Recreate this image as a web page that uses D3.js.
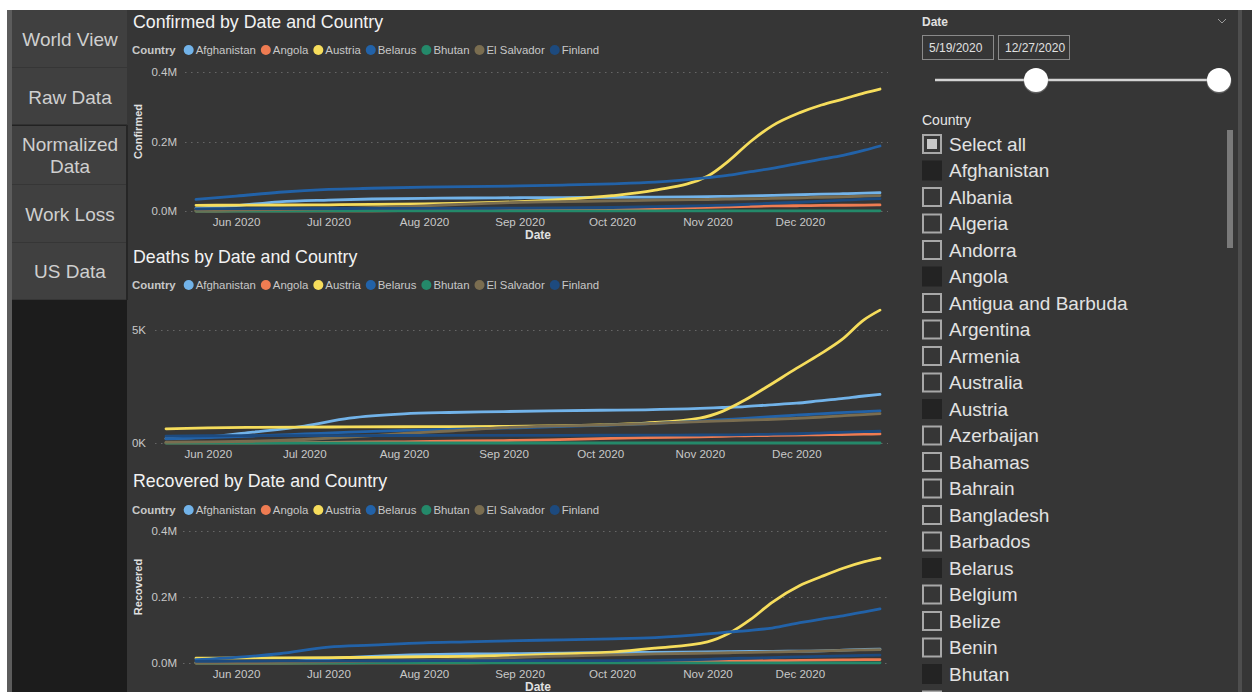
<!DOCTYPE html>
<html>
<head>
<meta charset="utf-8">
<script src="https://cdn.jsdelivr.net/npm/d3@7"></script>
<style>
  body { margin: 0; background: #fff; }
  svg { display: block; font-family: "Liberation Sans", Arial, sans-serif; }
</style>
</head>
<body>
<svg id="page" width="1252" height="692"></svg>
<script>
// ---- data ----
const countries = ["Afghanistan", "Angola", "Austria", "Belarus", "Bhutan", "El Salvador", "Finland"];
const colors = ["#72b3e9", "#ef7c52", "#f6dd5c", "#2262a8", "#24896a", "#7a6d50", "#1d4a7e"];

const dateStrings = ["2020-05-19", "2020-06-01", "2020-06-15", "2020-07-01", "2020-07-15",
  "2020-08-01", "2020-08-15", "2020-09-01", "2020-09-15", "2020-10-01", "2020-10-15",
  "2020-11-01", "2020-11-08", "2020-11-15", "2020-11-22", "2020-12-01", "2020-12-08",
  "2020-12-15", "2020-12-22", "2020-12-27"];
const monthTicks = ["2020-06-01", "2020-07-01", "2020-08-01", "2020-09-01", "2020-10-01", "2020-11-01", "2020-12-01"];

const confirmedAfghanistan = [7600, 15200, 26300, 31500, 34500, 36500, 37400, 38200, 38700, 39300, 40000, 41500, 42300, 43600, 45000, 46700, 48400, 49800, 51200, 52500];
const confirmedAngola = [52, 86, 142, 284, 600, 1150, 1850, 2650, 3570, 5110, 7220, 10800, 12100, 13450, 14630, 15250, 16060, 16560, 17030, 17500];
const confirmedAustria = [16300, 16700, 17200, 17900, 19200, 20700, 22900, 27000, 33500, 44000, 60000, 100000, 145000, 200000, 245000, 283000, 305000, 322000, 340000, 351000];
const confirmedBelarus = [33400, 42800, 54000, 62400, 65400, 68500, 70200, 72200, 74700, 78100, 83000, 96000, 103000, 113000, 123000, 138000, 149000, 160000, 175000, 187000];
const confirmedBhutan = [24, 43, 67, 77, 86, 103, 135, 228, 227, 280, 303, 339, 370, 376, 391, 410, 431, 448, 595, 625];
const confirmedElSalvador = [1640, 2650, 3820, 6440, 9470, 15040, 20050, 24960, 27010, 29130, 31080, 33160, 34100, 35200, 36300, 38000, 39500, 41000, 43000, 44500];
const confirmedFinland = [6400, 6860, 7110, 7210, 7310, 7460, 7680, 8260, 8930, 10030, 12460, 15300, 17000, 19600, 22400, 25200, 28300, 31100, 33900, 35500];

const deathsAfghanistan = [194, 270, 480, 750, 1100, 1290, 1350, 1390, 1420, 1450, 1470, 1530, 1570, 1610, 1680, 1760, 1860, 1960, 2080, 2150];
const deathsAngola = [3, 4, 6, 15, 38, 52, 80, 108, 134, 190, 234, 275, 299, 317, 331, 350, 365, 377, 390, 400];
const deathsAustria = [629, 668, 690, 705, 711, 719, 726, 735, 756, 800, 880, 1100, 1400, 1900, 2500, 3300, 3900, 4560, 5450, 5880];
const deathsBelarus = [185, 240, 310, 400, 480, 560, 600, 660, 710, 780, 850, 970, 1030, 1090, 1150, 1230, 1290, 1340, 1390, 1420];
const deathsBhutan = [0, 0, 0, 0, 0, 0, 0, 0, 0, 0, 0, 0, 0, 0, 0, 0, 0, 0, 0, 0];
const deathsElSalvador = [33, 46, 78, 155, 260, 420, 530, 680, 750, 790, 850, 950, 980, 1010, 1040, 1090, 1140, 1200, 1260, 1300];
const deathsFinland = [300, 320, 326, 328, 329, 331, 333, 336, 339, 343, 345, 355, 360, 370, 385, 410, 440, 470, 500, 520];

const recoveredAfghanistan = [930, 1330, 2170, 13200, 20100, 25200, 27200, 28400, 30100, 31300, 32300, 33800, 34400, 34900, 35400, 36100, 36900, 39300, 41000, 41700];
const recoveredAngola = [17, 21, 62, 97, 240, 460, 700, 1000, 1300, 2200, 3300, 4500, 5300, 6300, 7100, 7900, 8600, 9500, 10000, 10500];
const recoveredAustria = [14700, 15100, 15700, 16500, 17100, 19000, 20300, 23300, 27500, 33000, 45000, 64000, 90000, 132000, 184000, 235000, 262000, 287000, 307000, 318000];
const recoveredBelarus = [10000, 17000, 28000, 48000, 54000, 61000, 64000, 68000, 70000, 73000, 77000, 88000, 94000, 99000, 106000, 122000, 133000, 143000, 155000, 164000];
const recoveredBhutan = [6, 10, 30, 50, 80, 90, 100, 140, 200, 240, 290, 310, 330, 345, 360, 380, 400, 410, 420, 450];
const recoveredElSalvador = [700, 1100, 1800, 3400, 5400, 7800, 10600, 17400, 21000, 24600, 27500, 30000, 31000, 32000, 33500, 35200, 36800, 38300, 39800, 40600];
const recoveredFinland = [5000, 5500, 6200, 6500, 6700, 6900, 7000, 7050, 7100, 7300, 8000, 11000, 13500, 15000, 16500, 18500, 20000, 21500, 23000, 24000];

const navItems = ["World View", "Raw Data", "Normalized Data", "Work Loss", "US Data"];
const sliderDates = ["5/19/2020", "12/27/2020"];
const countryList = ["Select all", "Afghanistan", "Albania", "Algeria", "Andorra", "Angola",
  "Antigua and Barbuda", "Argentina", "Armenia", "Australia", "Austria", "Azerbaijan",
  "Bahamas", "Bahrain", "Bangladesh", "Barbados", "Belarus", "Belgium", "Belize", "Benin",
  "Bhutan"];

// ---- page ----
const parse = d3.timeParse("%Y-%m-%d");
const dates = dateStrings.map(parse);
const svg = d3.select("#page");

const BG = "#363636";
const TEXT = "#c8c8c8";
const FONT = "Liberation Sans, Arial, sans-serif";

svg.append("rect").attr("width", 1252).attr("height", 692).attr("fill", "#ffffff");
svg.append("rect").attr("x", 7).attr("y", 10).attr("width", 5).attr("height", 682).attr("fill", "#5c5c5c");
svg.append("rect").attr("x", 12).attr("y", 10).attr("width", 115).attr("height", 682).attr("fill", "#1c1c1c");
svg.append("rect").attr("x", 127).attr("y", 10).attr("width", 1125).attr("height", 682).attr("fill", BG);
svg.append("rect").attr("x", 1238).attr("y", 10).attr("width", 4).attr("height", 682).attr("fill", "#4e4e4e");

// nav buttons
const navTops = [10, 68, 126, 185, 243, 300];
navItems.forEach((name, i) => {
  const y0 = navTops[i], y1 = navTops[i + 1];
  svg.append("rect").attr("x", 12).attr("y", y0).attr("width", 115).attr("height", y1 - y0)
    .attr("fill", "#404040");
  svg.append("line").attr("x1", 12).attr("x2", 127).attr("y1", y1 - 0.5).attr("y2", y1 - 0.5)
    .attr("stroke", i === 1 ? "#222" : "#363636").attr("stroke-width", i === 1 ? 2 : 1);
  const words = name === "Normalized Data" ? ["Normalized", "Data"] : [name];
  const cy = (y0 + y1) / 2;
  words.forEach((w, k) => {
    svg.append("text").attr("x", 70).attr("y", cy + (k - (words.length - 1) / 2) * 22)
      .attr("dy", "0.35em").attr("text-anchor", "middle")
      .attr("font-size", 19).attr("fill", "#cfcfcf").text(w);
  });
});
svg.append("line").attr("x1", 127).attr("x2", 127).attr("y1", 125).attr("y2", 300)
  .attr("stroke", "#262626").attr("stroke-width", 2);

// ---- charts ----
function drawChart(cfg) {
  const g = svg.append("g");
  g.append("text").attr("x", 133).attr("y", cfg.titleY).attr("font-size", 17.8)
    .attr("fill", "#f2f2f2").text(cfg.title);

  // legend
  const leg = g.append("g").attr("transform", `translate(0,${cfg.legendY})`).attr("font-size", 11.4);
  let cur = 132;
  const lab = leg.append("text").attr("x", cur).attr("dy", "0.35em").attr("font-weight", "bold")
    .attr("fill", TEXT).text("Country");
  cur += lab.node().getComputedTextLength() + 8;
  countries.forEach((c, i) => {
    leg.append("circle").attr("cx", cur + 5).attr("cy", 0).attr("r", 5).attr("fill", colors[i]);
    const t = leg.append("text").attr("x", cur + 12).attr("dy", "0.35em").attr("fill", TEXT).text(c);
    cur += 12 + t.node().getComputedTextLength() + 5;
  });

  const x = d3.scaleTime().domain([dates[0], dates[dates.length - 1]]).range([cfg.x0, 880]);
  const y = d3.scaleLinear().domain([0, cfg.yMax]).range([cfg.yBase, cfg.yTop]);

  // grid
  g.selectAll(".grid").data(cfg.ticks).enter().append("line")
    .attr("x1", cfg.gridX0).attr("x2", 888)
    .attr("y1", d => Math.round(y(d)) + 0.5).attr("y2", d => Math.round(y(d)) + 0.5)
    .attr("stroke", "#666").attr("stroke-dasharray", "1.5,4.5");

  // y axis
  const ya = g.append("g").attr("transform", `translate(${cfg.labelX},0)`)
    .call(d3.axisLeft(y).tickValues(cfg.ticks).tickFormat(cfg.fmt).tickSize(0).tickPadding(0));
  ya.select(".domain").remove();
  ya.selectAll("text").attr("font-size", 11.5).attr("fill", TEXT).attr("font-family", FONT);

  // x axis
  const xa = g.append("g").attr("transform", `translate(0,${cfg.yBase})`)
    .call(d3.axisBottom(x).tickValues(monthTicks.map(parse)).tickFormat(d3.timeFormat("%b %Y"))
      .tickSize(0).tickPadding(7));
  xa.select(".domain").remove();
  xa.selectAll("text").attr("font-size", 11.6).attr("fill", TEXT).attr("font-family", FONT);

  if (cfg.yTitle) {
    g.append("text").attr("transform", `translate(138,${(cfg.yBase + cfg.yTop) / 2 - 10}) rotate(-90)`)
      .attr("text-anchor", "middle").attr("dy", "0.35em").attr("font-size", 11)
      .attr("font-weight", "bold").attr("fill", "#e0e0e0").text(cfg.yTitle);
  }
  if (cfg.xTitle) {
    g.append("text").attr("x", 538).attr("y", cfg.yBase + 28).attr("text-anchor", "middle")
      .attr("font-size", 12).attr("font-weight", "bold").attr("fill", "#e0e0e0").text("Date");
  }

  const line = d3.line().x((d, i) => x(dates[i])).y(d => y(d)).curve(d3.curveMonotoneX);
  g.selectAll(".series").data(cfg.series).enter().append("path")
    .attr("d", d => line(d)).attr("fill", "none")
    .attr("stroke", (d, i) => colors[i]).attr("stroke-width", 2.8)
    .attr("stroke-linejoin", "round").attr("stroke-linecap", "round");
}

const fmtM = d => (d / 1e6).toFixed(1) + "M";
const fmtK = d => (d / 1000) + "K";

drawChart({
  title: "Confirmed by Date and Country", titleY: 28, legendY: 50,
  x0: 196, yBase: 211, yTop: 72, yMax: 400000, ticks: [0, 200000, 400000], fmt: fmtM,
  labelX: 177, gridX0: 185, yTitle: "Confirmed", xTitle: true,
  series: [confirmedAfghanistan, confirmedAngola, confirmedAustria, confirmedBelarus,
    confirmedBhutan, confirmedElSalvador, confirmedFinland]
});
drawChart({
  title: "Deaths by Date and Country", titleY: 263, legendY: 285,
  x0: 166, yBase: 443, yTop: 307.4, yMax: 6000, ticks: [0, 5000], fmt: fmtK,
  labelX: 146, gridX0: 155, yTitle: null, xTitle: false,
  series: [deathsAfghanistan, deathsAngola, deathsAustria, deathsBelarus,
    deathsBhutan, deathsElSalvador, deathsFinland]
});
drawChart({
  title: "Recovered by Date and Country", titleY: 487, legendY: 510,
  x0: 196, yBase: 663, yTop: 531, yMax: 400000, ticks: [0, 200000, 400000], fmt: fmtM,
  labelX: 177, gridX0: 183, yTitle: "Recovered", xTitle: true,
  series: [recoveredAfghanistan, recoveredAngola, recoveredAustria, recoveredBelarus,
    recoveredBhutan, recoveredElSalvador, recoveredFinland]
});

// ---- slicers ----
const side = svg.append("g");
side.append("text").attr("x", 922).attr("y", 26).attr("font-size", 12).attr("font-weight", "bold")
  .attr("fill", "#e0e0e0").text("Date");
side.append("path").attr("d", "M1218,19 L1222,23 L1226,19").attr("fill", "none")
  .attr("stroke", "#9a9a9a").attr("stroke-width", 1);
sliderDates.forEach((d, i) => {
  const bx = i === 0 ? 922.5 : 998.5;
  side.append("rect").attr("x", bx).attr("y", 35.5).attr("width", 71).attr("height", 24)
    .attr("fill", "none").attr("stroke", "#8a8a8a");
  side.append("text").attr("x", bx + 6.5).attr("y", 52).attr("font-size", 12)
    .attr("fill", "#e0e0e0").text(d);
});
side.append("line").attr("x1", 935).attr("x2", 1219).attr("y1", 80).attr("y2", 80)
  .attr("stroke", "#d4d4d4").attr("stroke-width", 2.5);
[1036, 1219].forEach(cx => {
  side.append("circle").attr("cx", cx).attr("cy", 81).attr("r", 12.5).attr("fill", "#8a8a8a").attr("opacity", 0.5);
  side.append("circle").attr("cx", cx).attr("cy", 80).attr("r", 12).attr("fill", "#ffffff");
});

side.append("text").attr("x", 922).attr("y", 125).attr("font-size", 14).attr("fill", "#e6e6e6").text("Country");
const selected = ["Afghanistan", "Angola", "Austria", "Belarus", "Bhutan"];
countryList.forEach((c, i) => {
  const cy = 144 + i * 26.5;
  if (c === "Select all") {
    side.append("rect").attr("x", 923).attr("y", cy - 9).attr("width", 18).attr("height", 18)
      .attr("fill", "none").attr("stroke", "#a8a8a8").attr("stroke-width", 2);
    side.append("rect").attr("x", 927).attr("y", cy - 5).attr("width", 10).attr("height", 10).attr("fill", "#c8c8c8");
  } else if (selected.includes(c)) {
    side.append("rect").attr("x", 922).attr("y", cy - 10).attr("width", 20).attr("height", 20).attr("fill", "#232323");
  } else {
    side.append("rect").attr("x", 923).attr("y", cy - 9).attr("width", 18).attr("height", 18)
      .attr("fill", "none").attr("stroke", "#a8a8a8").attr("stroke-width", 2);
  }
  side.append("text").attr("x", 949).attr("y", cy).attr("dy", "0.35em").attr("font-size", 19)
    .attr("fill", "#e2e2e2").text(c);
});
// top edge of the next, scrolled-off checkbox
side.append("rect").attr("x", 923).attr("y", 144 + 21 * 26.5 - 9).attr("width", 18).attr("height", 18)
  .attr("fill", "none").attr("stroke", "#a8a8a8").attr("stroke-width", 2);
side.append("rect").attr("x", 1227).attr("y", 130).attr("width", 6).attr("height", 118).attr("fill", "#7a7a7a");
</script>
</body>
</html>
